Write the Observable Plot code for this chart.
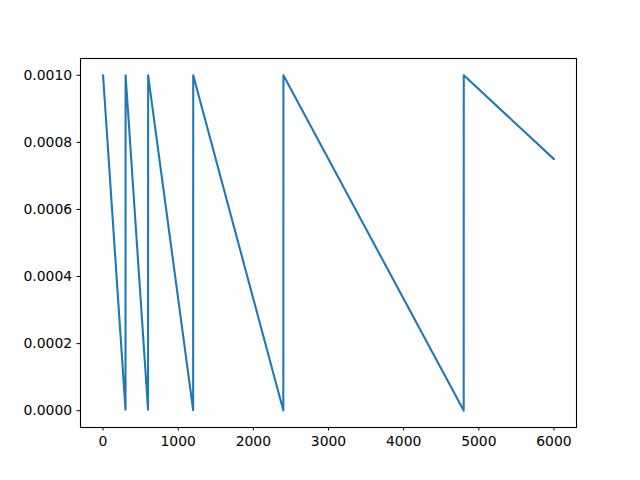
<!DOCTYPE html>
<html>
<head>
<meta charset="utf-8">
<script src="https://cdn.jsdelivr.net/npm/d3@7"></script>
<script src="https://cdn.jsdelivr.net/npm/@observablehq/plot@0.6"></script>
<style>
  html, body { margin: 0; padding: 0; background: #fff; }
  #chart { width: 640px; height: 480px; }
</style>
</head>
<body>
<div id="chart"></div>
<script>
const steps = [0, 299, 300, 599, 600, 1199, 1200, 2399, 2400, 4799, 4800, 6000];
const lrs = [0.001, 0.0000033, 0.001, 0.0000033, 0.001, 0.0000017, 0.001, 0.0000008, 0.001, 0.0000004, 0.001, 0.00075];
const xTicks = [0, 1000, 2000, 3000, 4000, 5000, 6000];
const yTicks = [0, 0.0002, 0.0004, 0.0006, 0.0008, 0.001];

const data = steps.map((s, i) => ({step: s, lr: lrs[i]}));

const chart = Plot.plot({
  width: 640,
  height: 480,
  marginLeft: 80,
  marginRight: 64,
  marginTop: 58,
  marginBottom: 53,
  style: {fontFamily: "DejaVu Sans", fontSize: "13.9px", color: "#000", background: "#fff"},
  x: {domain: [-300, 6300], ticks: xTicks, tickFormat: d => String(d), label: null, tickSize: 3.5, tickPadding: 4.9},
  y: {domain: [-0.00005, 0.00105], ticks: yTicks, tickFormat: d => d3.format(".4f")(d), label: null, tickSize: 3.5, tickPadding: 4.9},
  marks: [
    Plot.line(data, {x: "step", y: "lr", stroke: "#1f77b4", strokeWidth: 2.08}),
    Plot.frame({stroke: "#000", strokeWidth: 1.1})
  ]
});
document.getElementById("chart").appendChild(chart);
</script>
</body>
</html>
